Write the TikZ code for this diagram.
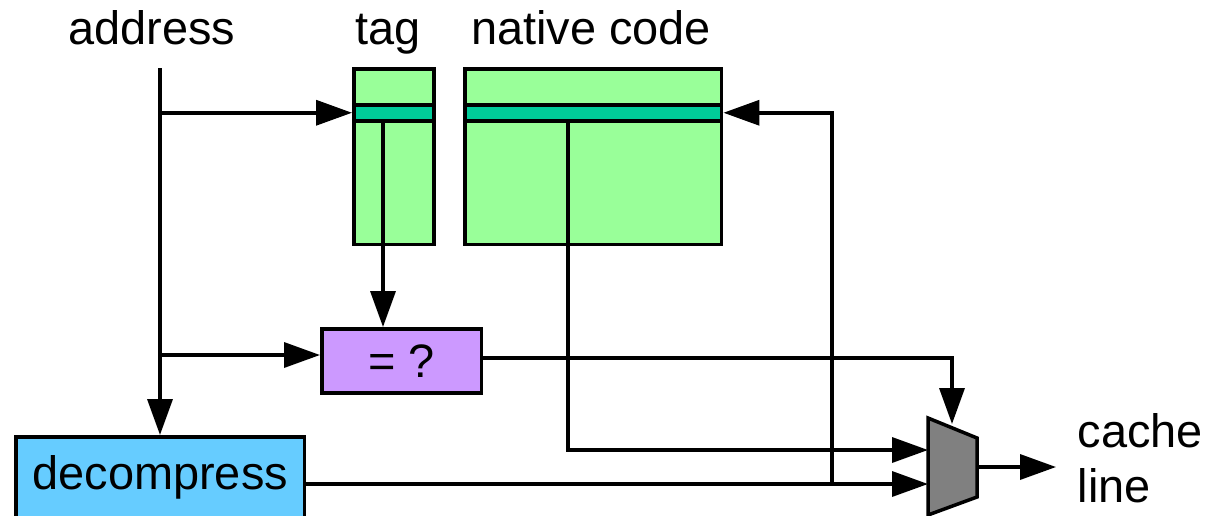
\documentclass[tikz,border=0pt]{standalone}
\usepackage{fontspec}
\setmainfont{Liberation Sans}
\usetikzlibrary{arrows.meta}
\definecolor{tabgreen}{HTML}{99FF99}
\definecolor{rowteal}{HTML}{00CC99}
\definecolor{cmplilac}{HTML}{CC99FF}
\definecolor{decblue}{HTML}{66CCFF}
\definecolor{muxgrey}{HTML}{808080}
\begin{document}
\begin{tikzpicture}[x=0.02cm, y=-0.02cm, line width=2pt,
    font=\fontsize{26.7}{31}\selectfont,
    blk/.style={draw, inner sep=0pt, anchor=north west},
    wire/.style={draw, arrows=-{Triangle[length=0.72cm,width=0.5cm]}}]
  \useasboundingbox (0,0) rectangle (1220,515);
  \node[blk, fill=tabgreen, minimum width=1.6cm, minimum height=3.52cm] (tag) at (352,67) {};
  \node[blk, fill=rowteal, minimum width=1.6cm, minimum height=0.32cm] (tagrow) at (352,103) {};
  \node[blk, fill=tabgreen, minimum width=5.14cm, minimum height=3.52cm] (native) at (463,67) {};
  \node[blk, fill=rowteal, minimum width=5.14cm, minimum height=0.32cm] (nativerow) at (463,103) {};
  \node[blk, fill=cmplilac, minimum width=3.2cm, minimum height=1.28cm] (eq) at (320,327) {= ?};
  \node[blk, fill=decblue, minimum width=5.78cm, minimum height=1.64cm] (decomp) at (14,435) {decompress};
  \path[draw, fill=muxgrey] (928,418) coordinate (muxtl) -- (977,438) -- (977,497) -- (928,515) -- cycle;
  \node[anchor=base] (addr) at (152,44) {address};
  \node[anchor=base] (taglbl) at (388,44) {tag};
  \node[anchor=base] (nativelbl) at (591,44) {native code};
  \node[anchor=west, align=left] (cl) at (1070,458) {cache\\line};
  \coordinate (atop) at (160,68);
  \coordinate (tagtap) at (383,119);
  \coordinate (nattap) at (568,119);
  \coordinate (muxsel) at (952,424);
  \coordinate (muxin1) at (928,450);
  \coordinate (muxin2) at (928,484);
  \coordinate (fb) at (832,484);
  \coordinate (muxout) at (977,467);
  \coordinate (clend) at (1056,467);
  \path[wire] (atop) -- (atop |- decomp.north);
  \path[wire] (atop |- tagrow.west) -- (tagrow.west);
  \path[wire] (atop |- 0,355) -- (eq.west |- 0,355);
  \path[wire] (tagtap) -- (tagtap |- eq.north);
  \path[wire] (nattap) |- (muxin1);
  \path[wire] (decomp.east |- muxin2) -- (muxin2);
  \path[wire] (fb) |- (nativerow.east);
  \path[wire] (eq.east |- 0,358) -| (muxsel);
  \path[wire] (muxout) -- (clend);
\end{tikzpicture}
\end{document}
